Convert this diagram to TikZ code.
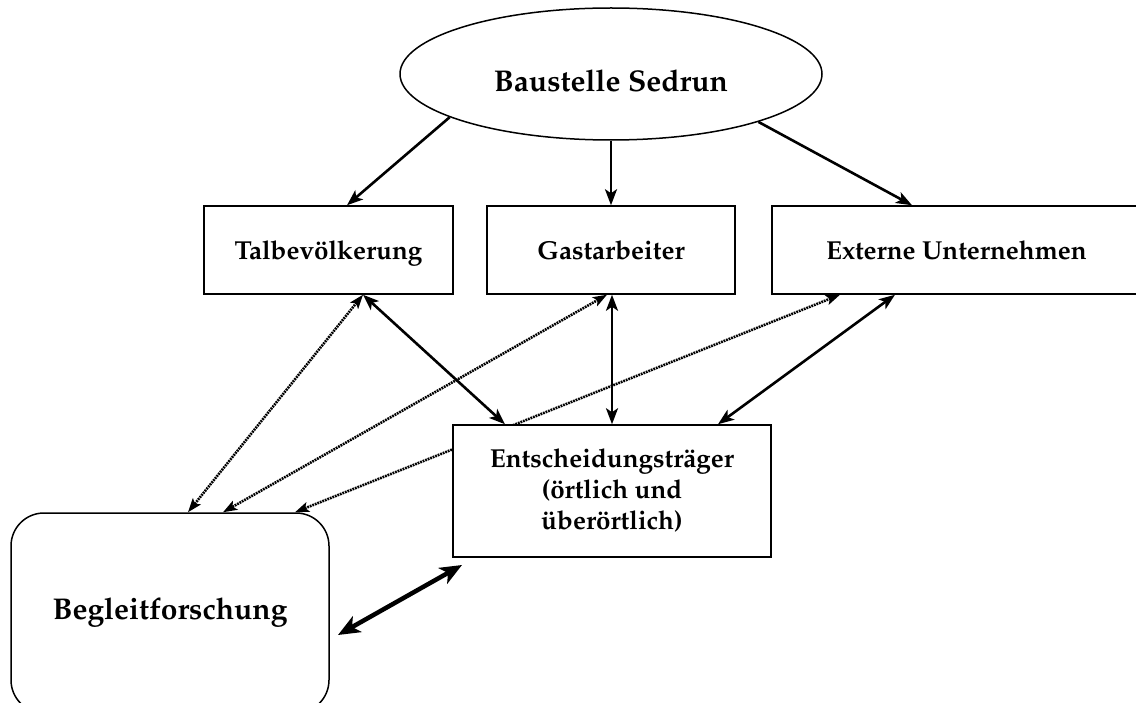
\documentclass[tikz,border=0pt]{standalone}
\usepackage[T1]{fontenc}
\usepackage{mathpazo}
\usetikzlibrary{shapes.geometric,arrows.meta}
\begin{document}
\begin{tikzpicture}[x=1pt,y=-1pt,
  every node/.style={font=\fontsize{26}{31}\selectfont\bfseries, align=center, inner sep=0pt},
  bigtext/.style={font=\fontsize{30}{36}\selectfont\bfseries},
  boxnode/.style={draw, line width=1.5pt, fill=white, minimum height=88pt},
  onelinetext/.style={text height=20pt, text depth=0pt},
  solidarrow/.style={line width=2.6pt, {Stealth[length=16pt,width=12pt,inset=4pt]}-{Stealth[length=16pt,width=12pt,inset=4pt]}},
  solidone/.style={line width=2.6pt, -{Stealth[length=16pt,width=12pt,inset=4pt]}},
  dotarrow/.style={line width=2.6pt, dash pattern=on 1.8pt off 0.9pt, {Stealth[length=14pt,width=10pt,inset=3pt]}-{Stealth[length=14pt,width=10pt,inset=3pt]}},
  thickarrow/.style={line width=4.5pt, {Stealth[length=22pt,width=18pt,inset=6pt]}-{Stealth[length=22pt,width=18pt,inset=6pt]}}]
\useasboundingbox (0,0) rectangle (1136,703);
\begin{scope}
\clip (0,0) rectangle (1136,703);
% nodes
\node[ellipse, draw, line width=1.5pt, minimum width=422pt, minimum height=132pt, bigtext, text height=36pt, text depth=0pt] (ell) at (611,74) {Baustelle Sedrun};
\node[boxnode, onelinetext, minimum width=249pt] (tal) at (328.5,250) {Talbev\"olkerung};
\node[boxnode, onelinetext, minimum width=248pt] (gast) at (611,250) {Gastarbeiter};
\node[boxnode, onelinetext, minimum width=369pt] (ext) at (956.5,250) {Externe Unternehmen};
\node[draw, line width=1.5pt, rounded corners=33pt, minimum width=318pt, minimum height=200pt, bigtext] (beg) at (170,613) {Begleitforschung};
% dotted connectors (behind boxes)
\draw[dotarrow] ([xshift=34.5pt]tal.south) -- ([xshift=18pt]beg.north);
\draw[dotarrow] ([xshift=-4pt]gast.south) -- ([xshift=53pt]beg.north);
\draw[dotarrow] ([xshift=-116.5pt]ext.south) -- ([xshift=125pt]beg.north);
% decision box on top
\node[boxnode, minimum width=318pt, minimum height=132pt] (ent) at (612,491) {Entscheidungstr\"ager\\(\"ortlich und\\\"uber\"ortlich)};
% solid connectors
\draw[solidone] (ell.195.8) -- ([xshift=18.5pt]tal.north);
\draw[solidone] (ell.south -| gast.north) -- (gast.north);
\draw[solidone] (ell.342.6) -- ([xshift=-44.5pt]ext.north);
\draw[solidarrow] ([xshift=34.5pt]tal.south) -- ([xshift=-107pt]ent.north);
\draw[solidarrow] (gast.south -| ent.north) -- (ent.north);
\draw[solidarrow] ([xshift=-61.5pt]ext.south) -- ([xshift=106pt]ent.north);
\coordinate (bx) at (338,635);
\coordinate (ex) at (462,565);
\draw[thickarrow] (bx) -- (ex);
\end{scope}
\end{tikzpicture}
\end{document}
